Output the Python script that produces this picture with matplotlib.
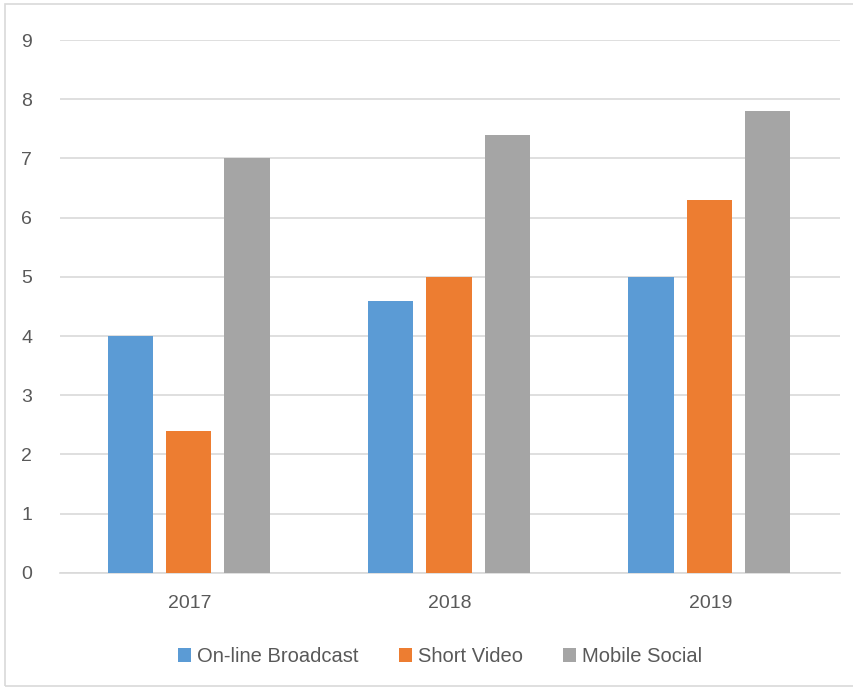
import matplotlib.pyplot as plt
import numpy as np
from matplotlib.patches import Rectangle

plt.rcParams['font.family'] = ['Liberation Sans', 'DejaVu Sans']

# categories and values
years = ["2017", "2018", "2019"]
series_names = ["On-line Broadcast", "Short Video", "Mobile Social"]
broadcast = [4.0, 4.6, 5.0]
short_video = [2.4, 5.0, 6.3]
mobile_social = [7.0, 7.4, 7.8]
colors = ["#5b9bd5", "#ed7d31", "#a5a5a5"]

fig = plt.figure(figsize=(8.54, 6.91), dpi=100)
ax = fig.add_axes([0.070, 0.171, 0.914, 0.771])

x = np.arange(len(years))
width = 0.174
step = 0.224
for i, (vals, name) in enumerate(zip([broadcast, short_video, mobile_social], series_names)):
    ax.bar(x + (i - 1) * step - 0.004, vals, width, color=colors[i], label=name, zorder=3)

ax.set_xlim(-0.5, 2.5)
ax.set_ylim(0, 9)
ax.set_yticks(range(0, 10))
ax.set_xticks(x)
ax.set_xticklabels(years)
ax.yaxis.grid(True, color="#d9d9d9", linewidth=1.2, zorder=0)
for s in ["top", "right", "left"]:
    ax.spines[s].set_visible(False)
ax.spines["bottom"].set_color("#d9d9d9")
ax.spines["bottom"].set_linewidth(1.2)
ax.tick_params(axis="both", length=0, labelsize=14, labelcolor="#595959")
ax.tick_params(axis="y", pad=20)
ax.tick_params(axis="x", pad=16)

leg = ax.legend(loc="upper center", bbox_to_anchor=(0.487, -0.105), ncol=3, frameon=False,
                fontsize=14.5, handlelength=0.65, handleheight=0.65, handletextpad=0.3,
                columnspacing=2.0)
for t in leg.get_texts():
    t.set_color("#595959")

# outer border of the chart area
fig.patches.append(Rectangle((0.006, 0.007), 1.2, 0.987, transform=fig.transFigure,
                             fill=False, edgecolor="#d9d9d9", linewidth=1.2))

fig.savefig("out.png", dpi=100)
